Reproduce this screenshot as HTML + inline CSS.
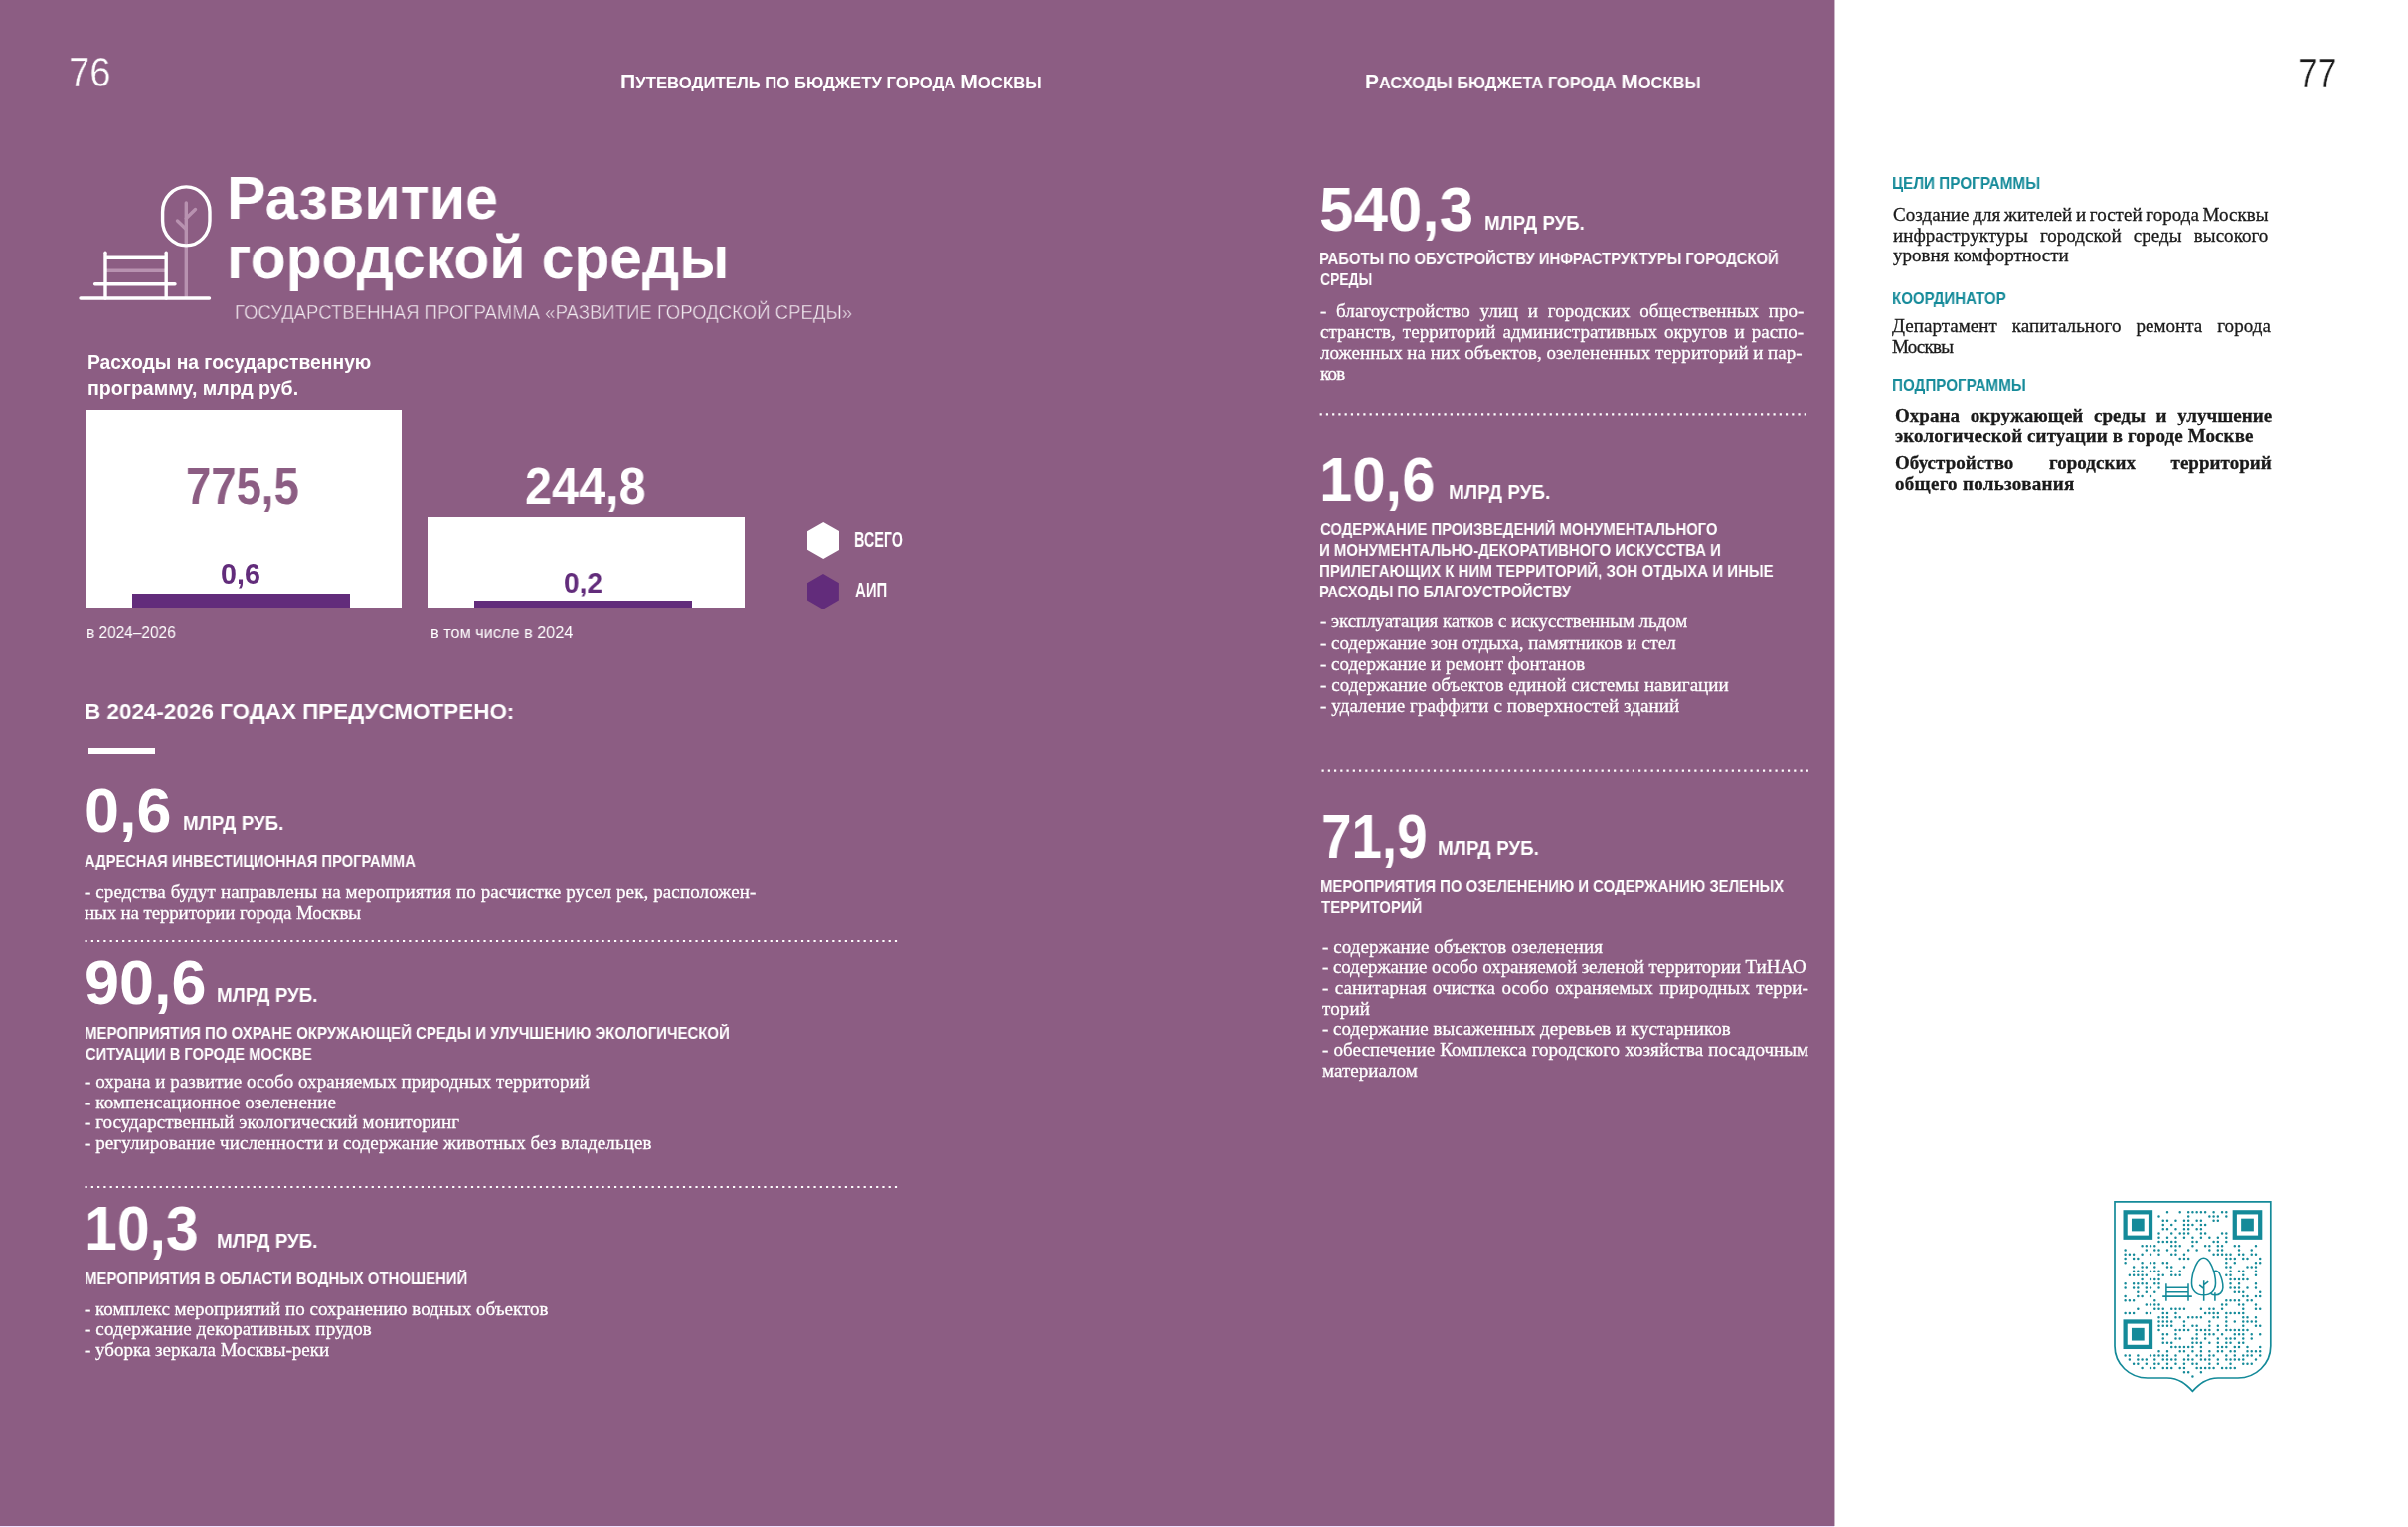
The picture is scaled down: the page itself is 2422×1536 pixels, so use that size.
<!DOCTYPE html>
<html><head><meta charset="utf-8"><title>Развитие городской среды</title><style>
*{margin:0;padding:0;box-sizing:border-box}
html,body{width:2422px;height:1536px;overflow:hidden;background:#fff}
body{position:relative;font-family:"Liberation Sans",sans-serif}
.t{position:absolute;white-space:nowrap;line-height:0;transform-origin:0 0;will-change:transform}
.sf{font-family:"Liberation Serif",serif;-webkit-text-stroke:0.3px currentColor}

.sc .b{font-size:21px}
#bg{position:absolute;left:0;top:0;width:1845px;height:1535px;background:#8c5d83}
#bgl{position:absolute;left:0;top:1535px;width:1845px;height:1px;background:#f0e1fd}
#bge{position:absolute;left:1845px;top:0;width:1px;height:1535px;background:rgba(140,93,131,0.45)}
</style></head><body>
<div id="bg"></div><div id="bgl"></div><div id="bge"></div>
<svg style="position:absolute;left:0;top:0" width="260" height="320" viewBox="0 0 260 320"><line x1="187.3" y1="204" x2="187.3" y2="298" stroke="#b892b0" stroke-width="3.4" stroke-linecap="round"/><polyline points="196.5,210.5 187.3,219.5" fill="none" stroke="#b892b0" stroke-width="3.4" stroke-linecap="round"/><polyline points="178.5,222 187.3,230.5" fill="none" stroke="#b892b0" stroke-width="3.4" stroke-linecap="round"/><rect x="163.6" y="187.9" width="47.4" height="59.0" rx="23.7" ry="25" fill="none" stroke="#fff" stroke-width="3.4"/><line x1="107" y1="272.3" x2="166" y2="272.3" stroke="#b892b0" stroke-width="3.4"/><line x1="106" y1="254.3" x2="106" y2="300" stroke="#fff" stroke-width="3.4" stroke-linecap="round"/><line x1="167.2" y1="254.3" x2="167.2" y2="300" stroke="#fff" stroke-width="3.4" stroke-linecap="round"/><line x1="106" y1="259.2" x2="167.2" y2="259.2" stroke="#fff" stroke-width="3.4"/><line x1="95.6" y1="285.8" x2="176" y2="285.8" stroke="#fff" stroke-width="3.4" stroke-linecap="round"/><line x1="81" y1="300" x2="210.5" y2="300" stroke="#fff" stroke-width="3.4" stroke-linecap="round"/></svg>
<div style="position:absolute;left:85.60px;top:412.00px;width:318.70px;height:199.60px;background:#fff;"></div>
<div style="position:absolute;left:430.00px;top:519.80px;width:318.60px;height:91.80px;background:#fff;"></div>
<div style="position:absolute;left:133.00px;top:598.40px;width:218.70px;height:13.20px;background:#622c7b;"></div>
<div style="position:absolute;left:477.40px;top:605.00px;width:218.60px;height:6.60px;background:#622c7b;"></div>
<svg style="position:absolute;left:811.50px;top:525.00px" width="32.40" height="37.00" viewBox="0 0 32.40 37.00"><polygon points="16.20,0 32.40,9.25 32.40,27.75 16.20,37.00 0,27.75 0,9.25" fill="#fff"/></svg>
<svg style="position:absolute;left:812.00px;top:576.60px" width="31.90" height="36.80" viewBox="0 0 31.90 36.80"><polygon points="15.95,0 31.90,9.20 31.90,27.60 15.95,36.80 0,27.60 0,9.20" fill="#622c7b"/></svg>
<div style="position:absolute;left:88.50px;top:751.60px;width:67.30px;height:6.30px;background:#fff;"></div>
<svg style="position:absolute;left:0;top:0;overflow:visible" width="1" height="1"><path d="M85.50,945.90h2.20v2.20h-2.20zM91.76,945.90h2.20v2.20h-2.20zM98.03,945.90h2.20v2.20h-2.20zM104.29,945.90h2.20v2.20h-2.20zM110.56,945.90h2.20v2.20h-2.20zM116.82,945.90h2.20v2.20h-2.20zM123.09,945.90h2.20v2.20h-2.20zM129.35,945.90h2.20v2.20h-2.20zM135.62,945.90h2.20v2.20h-2.20zM141.88,945.90h2.20v2.20h-2.20zM148.15,945.90h2.20v2.20h-2.20zM154.41,945.90h2.20v2.20h-2.20zM160.68,945.90h2.20v2.20h-2.20zM166.94,945.90h2.20v2.20h-2.20zM173.20,945.90h2.20v2.20h-2.20zM179.47,945.90h2.20v2.20h-2.20zM185.73,945.90h2.20v2.20h-2.20zM192.00,945.90h2.20v2.20h-2.20zM198.26,945.90h2.20v2.20h-2.20zM204.53,945.90h2.20v2.20h-2.20zM210.79,945.90h2.20v2.20h-2.20zM217.06,945.90h2.20v2.20h-2.20zM223.32,945.90h2.20v2.20h-2.20zM229.59,945.90h2.20v2.20h-2.20zM235.85,945.90h2.20v2.20h-2.20zM242.12,945.90h2.20v2.20h-2.20zM248.38,945.90h2.20v2.20h-2.20zM254.64,945.90h2.20v2.20h-2.20zM260.91,945.90h2.20v2.20h-2.20zM267.17,945.90h2.20v2.20h-2.20zM273.44,945.90h2.20v2.20h-2.20zM279.70,945.90h2.20v2.20h-2.20zM285.97,945.90h2.20v2.20h-2.20zM292.23,945.90h2.20v2.20h-2.20zM298.50,945.90h2.20v2.20h-2.20zM304.76,945.90h2.20v2.20h-2.20zM311.03,945.90h2.20v2.20h-2.20zM317.29,945.90h2.20v2.20h-2.20zM323.56,945.90h2.20v2.20h-2.20zM329.82,945.90h2.20v2.20h-2.20zM336.08,945.90h2.20v2.20h-2.20zM342.35,945.90h2.20v2.20h-2.20zM348.61,945.90h2.20v2.20h-2.20zM354.88,945.90h2.20v2.20h-2.20zM361.14,945.90h2.20v2.20h-2.20zM367.41,945.90h2.20v2.20h-2.20zM373.67,945.90h2.20v2.20h-2.20zM379.94,945.90h2.20v2.20h-2.20zM386.20,945.90h2.20v2.20h-2.20zM392.47,945.90h2.20v2.20h-2.20zM398.73,945.90h2.20v2.20h-2.20zM405.00,945.90h2.20v2.20h-2.20zM411.26,945.90h2.20v2.20h-2.20zM417.52,945.90h2.20v2.20h-2.20zM423.79,945.90h2.20v2.20h-2.20zM430.05,945.90h2.20v2.20h-2.20zM436.32,945.90h2.20v2.20h-2.20zM442.58,945.90h2.20v2.20h-2.20zM448.85,945.90h2.20v2.20h-2.20zM455.11,945.90h2.20v2.20h-2.20zM461.38,945.90h2.20v2.20h-2.20zM467.64,945.90h2.20v2.20h-2.20zM473.91,945.90h2.20v2.20h-2.20zM480.17,945.90h2.20v2.20h-2.20zM486.44,945.90h2.20v2.20h-2.20zM492.70,945.90h2.20v2.20h-2.20zM498.96,945.90h2.20v2.20h-2.20zM505.23,945.90h2.20v2.20h-2.20zM511.49,945.90h2.20v2.20h-2.20zM517.76,945.90h2.20v2.20h-2.20zM524.02,945.90h2.20v2.20h-2.20zM530.29,945.90h2.20v2.20h-2.20zM536.55,945.90h2.20v2.20h-2.20zM542.82,945.90h2.20v2.20h-2.20zM549.08,945.90h2.20v2.20h-2.20zM555.35,945.90h2.20v2.20h-2.20zM561.61,945.90h2.20v2.20h-2.20zM567.88,945.90h2.20v2.20h-2.20zM574.14,945.90h2.20v2.20h-2.20zM580.40,945.90h2.20v2.20h-2.20zM586.67,945.90h2.20v2.20h-2.20zM592.93,945.90h2.20v2.20h-2.20zM599.20,945.90h2.20v2.20h-2.20zM605.46,945.90h2.20v2.20h-2.20zM611.73,945.90h2.20v2.20h-2.20zM617.99,945.90h2.20v2.20h-2.20zM624.26,945.90h2.20v2.20h-2.20zM630.52,945.90h2.20v2.20h-2.20zM636.79,945.90h2.20v2.20h-2.20zM643.05,945.90h2.20v2.20h-2.20zM649.32,945.90h2.20v2.20h-2.20zM655.58,945.90h2.20v2.20h-2.20zM661.84,945.90h2.20v2.20h-2.20zM668.11,945.90h2.20v2.20h-2.20zM674.37,945.90h2.20v2.20h-2.20zM680.64,945.90h2.20v2.20h-2.20zM686.90,945.90h2.20v2.20h-2.20zM693.17,945.90h2.20v2.20h-2.20zM699.43,945.90h2.20v2.20h-2.20zM705.70,945.90h2.20v2.20h-2.20zM711.96,945.90h2.20v2.20h-2.20zM718.23,945.90h2.20v2.20h-2.20zM724.49,945.90h2.20v2.20h-2.20zM730.76,945.90h2.20v2.20h-2.20zM737.02,945.90h2.20v2.20h-2.20zM743.28,945.90h2.20v2.20h-2.20zM749.55,945.90h2.20v2.20h-2.20zM755.81,945.90h2.20v2.20h-2.20zM762.08,945.90h2.20v2.20h-2.20zM768.34,945.90h2.20v2.20h-2.20zM774.61,945.90h2.20v2.20h-2.20zM780.87,945.90h2.20v2.20h-2.20zM787.14,945.90h2.20v2.20h-2.20zM793.40,945.90h2.20v2.20h-2.20zM799.67,945.90h2.20v2.20h-2.20zM805.93,945.90h2.20v2.20h-2.20zM812.20,945.90h2.20v2.20h-2.20zM818.46,945.90h2.20v2.20h-2.20zM824.72,945.90h2.20v2.20h-2.20zM830.99,945.90h2.20v2.20h-2.20zM837.25,945.90h2.20v2.20h-2.20zM843.52,945.90h2.20v2.20h-2.20zM849.78,945.90h2.20v2.20h-2.20zM856.05,945.90h2.20v2.20h-2.20zM862.31,945.90h2.20v2.20h-2.20zM868.58,945.90h2.20v2.20h-2.20zM874.84,945.90h2.20v2.20h-2.20zM881.11,945.90h2.20v2.20h-2.20zM887.37,945.90h2.20v2.20h-2.20zM893.64,945.90h2.20v2.20h-2.20zM899.90,945.90h2.20v2.20h-2.20z" fill="#fff"/></svg>
<svg style="position:absolute;left:0;top:0;overflow:visible" width="1" height="1"><path d="M85.50,1192.90h2.20v2.20h-2.20zM91.76,1192.90h2.20v2.20h-2.20zM98.03,1192.90h2.20v2.20h-2.20zM104.29,1192.90h2.20v2.20h-2.20zM110.56,1192.90h2.20v2.20h-2.20zM116.82,1192.90h2.20v2.20h-2.20zM123.09,1192.90h2.20v2.20h-2.20zM129.35,1192.90h2.20v2.20h-2.20zM135.62,1192.90h2.20v2.20h-2.20zM141.88,1192.90h2.20v2.20h-2.20zM148.15,1192.90h2.20v2.20h-2.20zM154.41,1192.90h2.20v2.20h-2.20zM160.68,1192.90h2.20v2.20h-2.20zM166.94,1192.90h2.20v2.20h-2.20zM173.20,1192.90h2.20v2.20h-2.20zM179.47,1192.90h2.20v2.20h-2.20zM185.73,1192.90h2.20v2.20h-2.20zM192.00,1192.90h2.20v2.20h-2.20zM198.26,1192.90h2.20v2.20h-2.20zM204.53,1192.90h2.20v2.20h-2.20zM210.79,1192.90h2.20v2.20h-2.20zM217.06,1192.90h2.20v2.20h-2.20zM223.32,1192.90h2.20v2.20h-2.20zM229.59,1192.90h2.20v2.20h-2.20zM235.85,1192.90h2.20v2.20h-2.20zM242.12,1192.90h2.20v2.20h-2.20zM248.38,1192.90h2.20v2.20h-2.20zM254.64,1192.90h2.20v2.20h-2.20zM260.91,1192.90h2.20v2.20h-2.20zM267.17,1192.90h2.20v2.20h-2.20zM273.44,1192.90h2.20v2.20h-2.20zM279.70,1192.90h2.20v2.20h-2.20zM285.97,1192.90h2.20v2.20h-2.20zM292.23,1192.90h2.20v2.20h-2.20zM298.50,1192.90h2.20v2.20h-2.20zM304.76,1192.90h2.20v2.20h-2.20zM311.03,1192.90h2.20v2.20h-2.20zM317.29,1192.90h2.20v2.20h-2.20zM323.56,1192.90h2.20v2.20h-2.20zM329.82,1192.90h2.20v2.20h-2.20zM336.08,1192.90h2.20v2.20h-2.20zM342.35,1192.90h2.20v2.20h-2.20zM348.61,1192.90h2.20v2.20h-2.20zM354.88,1192.90h2.20v2.20h-2.20zM361.14,1192.90h2.20v2.20h-2.20zM367.41,1192.90h2.20v2.20h-2.20zM373.67,1192.90h2.20v2.20h-2.20zM379.94,1192.90h2.20v2.20h-2.20zM386.20,1192.90h2.20v2.20h-2.20zM392.47,1192.90h2.20v2.20h-2.20zM398.73,1192.90h2.20v2.20h-2.20zM405.00,1192.90h2.20v2.20h-2.20zM411.26,1192.90h2.20v2.20h-2.20zM417.52,1192.90h2.20v2.20h-2.20zM423.79,1192.90h2.20v2.20h-2.20zM430.05,1192.90h2.20v2.20h-2.20zM436.32,1192.90h2.20v2.20h-2.20zM442.58,1192.90h2.20v2.20h-2.20zM448.85,1192.90h2.20v2.20h-2.20zM455.11,1192.90h2.20v2.20h-2.20zM461.38,1192.90h2.20v2.20h-2.20zM467.64,1192.90h2.20v2.20h-2.20zM473.91,1192.90h2.20v2.20h-2.20zM480.17,1192.90h2.20v2.20h-2.20zM486.44,1192.90h2.20v2.20h-2.20zM492.70,1192.90h2.20v2.20h-2.20zM498.96,1192.90h2.20v2.20h-2.20zM505.23,1192.90h2.20v2.20h-2.20zM511.49,1192.90h2.20v2.20h-2.20zM517.76,1192.90h2.20v2.20h-2.20zM524.02,1192.90h2.20v2.20h-2.20zM530.29,1192.90h2.20v2.20h-2.20zM536.55,1192.90h2.20v2.20h-2.20zM542.82,1192.90h2.20v2.20h-2.20zM549.08,1192.90h2.20v2.20h-2.20zM555.35,1192.90h2.20v2.20h-2.20zM561.61,1192.90h2.20v2.20h-2.20zM567.88,1192.90h2.20v2.20h-2.20zM574.14,1192.90h2.20v2.20h-2.20zM580.40,1192.90h2.20v2.20h-2.20zM586.67,1192.90h2.20v2.20h-2.20zM592.93,1192.90h2.20v2.20h-2.20zM599.20,1192.90h2.20v2.20h-2.20zM605.46,1192.90h2.20v2.20h-2.20zM611.73,1192.90h2.20v2.20h-2.20zM617.99,1192.90h2.20v2.20h-2.20zM624.26,1192.90h2.20v2.20h-2.20zM630.52,1192.90h2.20v2.20h-2.20zM636.79,1192.90h2.20v2.20h-2.20zM643.05,1192.90h2.20v2.20h-2.20zM649.32,1192.90h2.20v2.20h-2.20zM655.58,1192.90h2.20v2.20h-2.20zM661.84,1192.90h2.20v2.20h-2.20zM668.11,1192.90h2.20v2.20h-2.20zM674.37,1192.90h2.20v2.20h-2.20zM680.64,1192.90h2.20v2.20h-2.20zM686.90,1192.90h2.20v2.20h-2.20zM693.17,1192.90h2.20v2.20h-2.20zM699.43,1192.90h2.20v2.20h-2.20zM705.70,1192.90h2.20v2.20h-2.20zM711.96,1192.90h2.20v2.20h-2.20zM718.23,1192.90h2.20v2.20h-2.20zM724.49,1192.90h2.20v2.20h-2.20zM730.76,1192.90h2.20v2.20h-2.20zM737.02,1192.90h2.20v2.20h-2.20zM743.28,1192.90h2.20v2.20h-2.20zM749.55,1192.90h2.20v2.20h-2.20zM755.81,1192.90h2.20v2.20h-2.20zM762.08,1192.90h2.20v2.20h-2.20zM768.34,1192.90h2.20v2.20h-2.20zM774.61,1192.90h2.20v2.20h-2.20zM780.87,1192.90h2.20v2.20h-2.20zM787.14,1192.90h2.20v2.20h-2.20zM793.40,1192.90h2.20v2.20h-2.20zM799.67,1192.90h2.20v2.20h-2.20zM805.93,1192.90h2.20v2.20h-2.20zM812.20,1192.90h2.20v2.20h-2.20zM818.46,1192.90h2.20v2.20h-2.20zM824.72,1192.90h2.20v2.20h-2.20zM830.99,1192.90h2.20v2.20h-2.20zM837.25,1192.90h2.20v2.20h-2.20zM843.52,1192.90h2.20v2.20h-2.20zM849.78,1192.90h2.20v2.20h-2.20zM856.05,1192.90h2.20v2.20h-2.20zM862.31,1192.90h2.20v2.20h-2.20zM868.58,1192.90h2.20v2.20h-2.20zM874.84,1192.90h2.20v2.20h-2.20zM881.11,1192.90h2.20v2.20h-2.20zM887.37,1192.90h2.20v2.20h-2.20zM893.64,1192.90h2.20v2.20h-2.20zM899.90,1192.90h2.20v2.20h-2.20z" fill="#fff"/></svg>
<svg style="position:absolute;left:0;top:0;overflow:visible" width="1" height="1"><path d="M1327.60,415.20h2.20v2.20h-2.20zM1333.84,415.20h2.20v2.20h-2.20zM1340.09,415.20h2.20v2.20h-2.20zM1346.33,415.20h2.20v2.20h-2.20zM1352.58,415.20h2.20v2.20h-2.20zM1358.82,415.20h2.20v2.20h-2.20zM1365.07,415.20h2.20v2.20h-2.20zM1371.31,415.20h2.20v2.20h-2.20zM1377.56,415.20h2.20v2.20h-2.20zM1383.80,415.20h2.20v2.20h-2.20zM1390.05,415.20h2.20v2.20h-2.20zM1396.29,415.20h2.20v2.20h-2.20zM1402.54,415.20h2.20v2.20h-2.20zM1408.78,415.20h2.20v2.20h-2.20zM1415.03,415.20h2.20v2.20h-2.20zM1421.27,415.20h2.20v2.20h-2.20zM1427.52,415.20h2.20v2.20h-2.20zM1433.76,415.20h2.20v2.20h-2.20zM1440.01,415.20h2.20v2.20h-2.20zM1446.25,415.20h2.20v2.20h-2.20zM1452.50,415.20h2.20v2.20h-2.20zM1458.74,415.20h2.20v2.20h-2.20zM1464.99,415.20h2.20v2.20h-2.20zM1471.23,415.20h2.20v2.20h-2.20zM1477.48,415.20h2.20v2.20h-2.20zM1483.72,415.20h2.20v2.20h-2.20zM1489.97,415.20h2.20v2.20h-2.20zM1496.21,415.20h2.20v2.20h-2.20zM1502.46,415.20h2.20v2.20h-2.20zM1508.70,415.20h2.20v2.20h-2.20zM1514.95,415.20h2.20v2.20h-2.20zM1521.19,415.20h2.20v2.20h-2.20zM1527.44,415.20h2.20v2.20h-2.20zM1533.68,415.20h2.20v2.20h-2.20zM1539.93,415.20h2.20v2.20h-2.20zM1546.17,415.20h2.20v2.20h-2.20zM1552.42,415.20h2.20v2.20h-2.20zM1558.66,415.20h2.20v2.20h-2.20zM1564.91,415.20h2.20v2.20h-2.20zM1571.15,415.20h2.20v2.20h-2.20zM1577.39,415.20h2.20v2.20h-2.20zM1583.64,415.20h2.20v2.20h-2.20zM1589.88,415.20h2.20v2.20h-2.20zM1596.13,415.20h2.20v2.20h-2.20zM1602.37,415.20h2.20v2.20h-2.20zM1608.62,415.20h2.20v2.20h-2.20zM1614.86,415.20h2.20v2.20h-2.20zM1621.11,415.20h2.20v2.20h-2.20zM1627.35,415.20h2.20v2.20h-2.20zM1633.60,415.20h2.20v2.20h-2.20zM1639.84,415.20h2.20v2.20h-2.20zM1646.09,415.20h2.20v2.20h-2.20zM1652.33,415.20h2.20v2.20h-2.20zM1658.58,415.20h2.20v2.20h-2.20zM1664.82,415.20h2.20v2.20h-2.20zM1671.07,415.20h2.20v2.20h-2.20zM1677.31,415.20h2.20v2.20h-2.20zM1683.56,415.20h2.20v2.20h-2.20zM1689.80,415.20h2.20v2.20h-2.20zM1696.05,415.20h2.20v2.20h-2.20zM1702.29,415.20h2.20v2.20h-2.20zM1708.54,415.20h2.20v2.20h-2.20zM1714.78,415.20h2.20v2.20h-2.20zM1721.03,415.20h2.20v2.20h-2.20zM1727.27,415.20h2.20v2.20h-2.20zM1733.52,415.20h2.20v2.20h-2.20zM1739.76,415.20h2.20v2.20h-2.20zM1746.01,415.20h2.20v2.20h-2.20zM1752.25,415.20h2.20v2.20h-2.20zM1758.50,415.20h2.20v2.20h-2.20zM1764.74,415.20h2.20v2.20h-2.20zM1770.99,415.20h2.20v2.20h-2.20zM1777.23,415.20h2.20v2.20h-2.20zM1783.48,415.20h2.20v2.20h-2.20zM1789.72,415.20h2.20v2.20h-2.20zM1795.97,415.20h2.20v2.20h-2.20zM1802.21,415.20h2.20v2.20h-2.20zM1808.46,415.20h2.20v2.20h-2.20zM1814.70,415.20h2.20v2.20h-2.20z" fill="#fff"/></svg>
<svg style="position:absolute;left:0;top:0;overflow:visible" width="1" height="1"><path d="M1329.50,774.60h2.20v2.20h-2.20zM1335.75,774.60h2.20v2.20h-2.20zM1341.99,774.60h2.20v2.20h-2.20zM1348.24,774.60h2.20v2.20h-2.20zM1354.48,774.60h2.20v2.20h-2.20zM1360.73,774.60h2.20v2.20h-2.20zM1366.98,774.60h2.20v2.20h-2.20zM1373.22,774.60h2.20v2.20h-2.20zM1379.47,774.60h2.20v2.20h-2.20zM1385.72,774.60h2.20v2.20h-2.20zM1391.96,774.60h2.20v2.20h-2.20zM1398.21,774.60h2.20v2.20h-2.20zM1404.45,774.60h2.20v2.20h-2.20zM1410.70,774.60h2.20v2.20h-2.20zM1416.95,774.60h2.20v2.20h-2.20zM1423.19,774.60h2.20v2.20h-2.20zM1429.44,774.60h2.20v2.20h-2.20zM1435.68,774.60h2.20v2.20h-2.20zM1441.93,774.60h2.20v2.20h-2.20zM1448.18,774.60h2.20v2.20h-2.20zM1454.42,774.60h2.20v2.20h-2.20zM1460.67,774.60h2.20v2.20h-2.20zM1466.92,774.60h2.20v2.20h-2.20zM1473.16,774.60h2.20v2.20h-2.20zM1479.41,774.60h2.20v2.20h-2.20zM1485.65,774.60h2.20v2.20h-2.20zM1491.90,774.60h2.20v2.20h-2.20zM1498.15,774.60h2.20v2.20h-2.20zM1504.39,774.60h2.20v2.20h-2.20zM1510.64,774.60h2.20v2.20h-2.20zM1516.88,774.60h2.20v2.20h-2.20zM1523.13,774.60h2.20v2.20h-2.20zM1529.38,774.60h2.20v2.20h-2.20zM1535.62,774.60h2.20v2.20h-2.20zM1541.87,774.60h2.20v2.20h-2.20zM1548.12,774.60h2.20v2.20h-2.20zM1554.36,774.60h2.20v2.20h-2.20zM1560.61,774.60h2.20v2.20h-2.20zM1566.85,774.60h2.20v2.20h-2.20zM1573.10,774.60h2.20v2.20h-2.20zM1579.35,774.60h2.20v2.20h-2.20zM1585.59,774.60h2.20v2.20h-2.20zM1591.84,774.60h2.20v2.20h-2.20zM1598.08,774.60h2.20v2.20h-2.20zM1604.33,774.60h2.20v2.20h-2.20zM1610.58,774.60h2.20v2.20h-2.20zM1616.82,774.60h2.20v2.20h-2.20zM1623.07,774.60h2.20v2.20h-2.20zM1629.32,774.60h2.20v2.20h-2.20zM1635.56,774.60h2.20v2.20h-2.20zM1641.81,774.60h2.20v2.20h-2.20zM1648.05,774.60h2.20v2.20h-2.20zM1654.30,774.60h2.20v2.20h-2.20zM1660.55,774.60h2.20v2.20h-2.20zM1666.79,774.60h2.20v2.20h-2.20zM1673.04,774.60h2.20v2.20h-2.20zM1679.28,774.60h2.20v2.20h-2.20zM1685.53,774.60h2.20v2.20h-2.20zM1691.78,774.60h2.20v2.20h-2.20zM1698.02,774.60h2.20v2.20h-2.20zM1704.27,774.60h2.20v2.20h-2.20zM1710.52,774.60h2.20v2.20h-2.20zM1716.76,774.60h2.20v2.20h-2.20zM1723.01,774.60h2.20v2.20h-2.20zM1729.25,774.60h2.20v2.20h-2.20zM1735.50,774.60h2.20v2.20h-2.20zM1741.75,774.60h2.20v2.20h-2.20zM1747.99,774.60h2.20v2.20h-2.20zM1754.24,774.60h2.20v2.20h-2.20zM1760.48,774.60h2.20v2.20h-2.20zM1766.73,774.60h2.20v2.20h-2.20zM1772.98,774.60h2.20v2.20h-2.20zM1779.22,774.60h2.20v2.20h-2.20zM1785.47,774.60h2.20v2.20h-2.20zM1791.72,774.60h2.20v2.20h-2.20zM1797.96,774.60h2.20v2.20h-2.20zM1804.21,774.60h2.20v2.20h-2.20zM1810.45,774.60h2.20v2.20h-2.20zM1816.70,774.60h2.20v2.20h-2.20z" fill="#fff"/></svg>
<svg style="position:absolute;left:2120px;top:1200px" width="175" height="210" viewBox="2120 1200 175 210"><path d="M2127,1208.8 H2283.8 V1354 C2283.8,1372 2269,1386 2251,1386 H2231 C2219,1386 2212,1392.5 2205.4,1399.3 C2198.8,1392.5 2191.8,1386 2179.8,1386 H2159.8 C2141.8,1386 2127,1372 2127,1354 Z" fill="none" stroke="#148a99" stroke-width="1.7" stroke-linejoin="miter"/><rect x="2137.62" y="1219.32" width="25.42" height="25.42" fill="none" stroke="#148a99" stroke-width="4.24"/><rect x="2143.97" y="1225.67" width="12.71" height="12.71" fill="#148a99"/><rect x="2247.78" y="1219.32" width="25.42" height="25.42" fill="none" stroke="#148a99" stroke-width="4.24"/><rect x="2254.14" y="1225.67" width="12.71" height="12.71" fill="#148a99"/><rect x="2137.62" y="1329.48" width="25.42" height="25.42" fill="none" stroke="#148a99" stroke-width="4.24"/><rect x="2143.97" y="1335.84" width="12.71" height="12.71" fill="#148a99"/><path d="M2179.99,1219.32h0.01M2192.70,1219.32h0.01M2201.17,1219.32h0.01M2205.41,1219.32h0.01M2209.65,1219.32h0.01M2213.88,1219.32h0.01M2218.12,1219.32h0.01M2226.60,1219.32h0.01M2235.07,1219.32h0.01M2239.31,1219.32h0.01M2171.51,1223.56h0.01M2201.17,1223.56h0.01M2222.36,1223.56h0.01M2226.60,1223.56h0.01M2230.83,1223.56h0.01M2239.31,1223.56h0.01M2175.75,1227.79h0.01M2179.99,1227.79h0.01M2188.46,1227.79h0.01M2196.94,1227.79h0.01M2201.17,1227.79h0.01M2209.65,1227.79h0.01M2213.88,1227.79h0.01M2226.60,1227.79h0.01M2230.83,1227.79h0.01M2175.75,1232.03h0.01M2184.23,1232.03h0.01M2196.94,1232.03h0.01M2201.17,1232.03h0.01M2205.41,1232.03h0.01M2213.88,1232.03h0.01M2218.12,1232.03h0.01M2175.75,1236.27h0.01M2179.99,1236.27h0.01M2188.46,1236.27h0.01M2196.94,1236.27h0.01M2201.17,1236.27h0.01M2209.65,1236.27h0.01M2213.88,1236.27h0.01M2171.51,1240.50h0.01M2184.23,1240.50h0.01M2192.70,1240.50h0.01M2196.94,1240.50h0.01M2201.17,1240.50h0.01M2213.88,1240.50h0.01M2218.12,1240.50h0.01M2235.07,1240.50h0.01M2239.31,1240.50h0.01M2171.51,1244.74h0.01M2179.99,1244.74h0.01M2188.46,1244.74h0.01M2196.94,1244.74h0.01M2205.41,1244.74h0.01M2213.88,1244.74h0.01M2222.36,1244.74h0.01M2230.83,1244.74h0.01M2239.31,1244.74h0.01M2171.51,1248.98h0.01M2175.75,1248.98h0.01M2179.99,1248.98h0.01M2184.23,1248.98h0.01M2188.46,1248.98h0.01M2205.41,1248.98h0.01M2209.65,1248.98h0.01M2226.60,1248.98h0.01M2230.83,1248.98h0.01M2239.31,1248.98h0.01M2154.57,1253.21h0.01M2158.80,1253.21h0.01M2163.04,1253.21h0.01M2167.28,1253.21h0.01M2184.23,1253.21h0.01M2188.46,1253.21h0.01M2192.70,1253.21h0.01M2205.41,1253.21h0.01M2218.12,1253.21h0.01M2222.36,1253.21h0.01M2230.83,1253.21h0.01M2235.07,1253.21h0.01M2247.78,1253.21h0.01M2252.02,1253.21h0.01M2268.97,1253.21h0.01M2137.62,1257.45h0.01M2158.80,1257.45h0.01M2167.28,1257.45h0.01M2171.51,1257.45h0.01M2179.99,1257.45h0.01M2188.46,1257.45h0.01M2201.17,1257.45h0.01M2209.65,1257.45h0.01M2222.36,1257.45h0.01M2230.83,1257.45h0.01M2235.07,1257.45h0.01M2252.02,1257.45h0.01M2264.73,1257.45h0.01M2137.62,1261.69h0.01M2141.86,1261.69h0.01M2146.09,1261.69h0.01M2154.57,1261.69h0.01M2163.04,1261.69h0.01M2171.51,1261.69h0.01M2184.23,1261.69h0.01M2188.46,1261.69h0.01M2196.94,1261.69h0.01M2226.60,1261.69h0.01M2230.83,1261.69h0.01M2235.07,1261.69h0.01M2239.31,1261.69h0.01M2243.54,1261.69h0.01M2252.02,1261.69h0.01M2256.25,1261.69h0.01M2264.73,1261.69h0.01M2268.97,1261.69h0.01M2137.62,1265.93h0.01M2146.09,1265.93h0.01M2150.33,1265.93h0.01M2192.70,1265.93h0.01M2196.94,1265.93h0.01M2201.17,1265.93h0.01M2239.31,1265.93h0.01M2243.54,1265.93h0.01M2247.78,1265.93h0.01M2256.25,1265.93h0.01M2260.49,1265.93h0.01M2273.20,1265.93h0.01M2137.62,1270.16h0.01M2154.57,1270.16h0.01M2163.04,1270.16h0.01M2167.28,1270.16h0.01M2175.75,1270.16h0.01M2179.99,1270.16h0.01M2239.31,1270.16h0.01M2247.78,1270.16h0.01M2268.97,1270.16h0.01M2273.20,1270.16h0.01M2146.09,1274.40h0.01M2154.57,1274.40h0.01M2158.80,1274.40h0.01M2167.28,1274.40h0.01M2179.99,1274.40h0.01M2184.23,1274.40h0.01M2196.94,1274.40h0.01M2239.31,1274.40h0.01M2243.54,1274.40h0.01M2260.49,1274.40h0.01M2264.73,1274.40h0.01M2268.97,1274.40h0.01M2146.09,1278.64h0.01M2150.33,1278.64h0.01M2154.57,1278.64h0.01M2163.04,1278.64h0.01M2167.28,1278.64h0.01M2171.51,1278.64h0.01M2184.23,1278.64h0.01M2192.70,1278.64h0.01M2243.54,1278.64h0.01M2252.02,1278.64h0.01M2256.25,1278.64h0.01M2268.97,1278.64h0.01M2141.86,1282.87h0.01M2146.09,1282.87h0.01M2150.33,1282.87h0.01M2154.57,1282.87h0.01M2158.80,1282.87h0.01M2171.51,1282.87h0.01M2175.75,1282.87h0.01M2184.23,1282.87h0.01M2188.46,1282.87h0.01M2192.70,1282.87h0.01M2239.31,1282.87h0.01M2243.54,1282.87h0.01M2256.25,1282.87h0.01M2268.97,1282.87h0.01M2154.57,1287.11h0.01M2163.04,1287.11h0.01M2167.28,1287.11h0.01M2171.51,1287.11h0.01M2243.54,1287.11h0.01M2247.78,1287.11h0.01M2252.02,1287.11h0.01M2256.25,1287.11h0.01M2260.49,1287.11h0.01M2137.62,1291.35h0.01M2146.09,1291.35h0.01M2150.33,1291.35h0.01M2154.57,1291.35h0.01M2158.80,1291.35h0.01M2167.28,1291.35h0.01M2171.51,1291.35h0.01M2243.54,1291.35h0.01M2252.02,1291.35h0.01M2268.97,1291.35h0.01M2137.62,1295.58h0.01M2146.09,1295.58h0.01M2150.33,1295.58h0.01M2158.80,1295.58h0.01M2163.04,1295.58h0.01M2171.51,1295.58h0.01M2243.54,1295.58h0.01M2247.78,1295.58h0.01M2252.02,1295.58h0.01M2260.49,1295.58h0.01M2268.97,1295.58h0.01M2150.33,1299.82h0.01M2158.80,1299.82h0.01M2167.28,1299.82h0.01M2247.78,1299.82h0.01M2252.02,1299.82h0.01M2256.25,1299.82h0.01M2273.20,1299.82h0.01M2137.62,1304.06h0.01M2150.33,1304.06h0.01M2154.57,1304.06h0.01M2163.04,1304.06h0.01M2256.25,1304.06h0.01M2260.49,1304.06h0.01M2268.97,1304.06h0.01M2273.20,1304.06h0.01M2137.62,1308.30h0.01M2141.86,1308.30h0.01M2146.09,1308.30h0.01M2167.28,1308.30h0.01M2239.31,1308.30h0.01M2243.54,1308.30h0.01M2247.78,1308.30h0.01M2252.02,1308.30h0.01M2260.49,1308.30h0.01M2264.73,1308.30h0.01M2158.80,1312.53h0.01M2163.04,1312.53h0.01M2167.28,1312.53h0.01M2171.51,1312.53h0.01M2235.07,1312.53h0.01M2239.31,1312.53h0.01M2252.02,1312.53h0.01M2256.25,1312.53h0.01M2268.97,1312.53h0.01M2150.33,1316.77h0.01M2167.28,1316.77h0.01M2171.51,1316.77h0.01M2175.75,1316.77h0.01M2184.23,1316.77h0.01M2188.46,1316.77h0.01M2192.70,1316.77h0.01M2196.94,1316.77h0.01M2213.88,1316.77h0.01M2222.36,1316.77h0.01M2226.60,1316.77h0.01M2235.07,1316.77h0.01M2256.25,1316.77h0.01M2268.97,1316.77h0.01M2273.20,1316.77h0.01M2137.62,1321.01h0.01M2141.86,1321.01h0.01M2146.09,1321.01h0.01M2158.80,1321.01h0.01M2163.04,1321.01h0.01M2175.75,1321.01h0.01M2179.99,1321.01h0.01M2188.46,1321.01h0.01M2218.12,1321.01h0.01M2222.36,1321.01h0.01M2226.60,1321.01h0.01M2230.83,1321.01h0.01M2239.31,1321.01h0.01M2243.54,1321.01h0.01M2247.78,1321.01h0.01M2252.02,1321.01h0.01M2256.25,1321.01h0.01M2171.51,1325.24h0.01M2175.75,1325.24h0.01M2179.99,1325.24h0.01M2188.46,1325.24h0.01M2192.70,1325.24h0.01M2201.17,1325.24h0.01M2205.41,1325.24h0.01M2209.65,1325.24h0.01M2213.88,1325.24h0.01M2226.60,1325.24h0.01M2230.83,1325.24h0.01M2239.31,1325.24h0.01M2256.25,1325.24h0.01M2260.49,1325.24h0.01M2268.97,1325.24h0.01M2171.51,1329.48h0.01M2175.75,1329.48h0.01M2179.99,1329.48h0.01M2184.23,1329.48h0.01M2196.94,1329.48h0.01M2222.36,1329.48h0.01M2239.31,1329.48h0.01M2247.78,1329.48h0.01M2256.25,1329.48h0.01M2260.49,1329.48h0.01M2264.73,1329.48h0.01M2268.97,1329.48h0.01M2171.51,1333.72h0.01M2175.75,1333.72h0.01M2179.99,1333.72h0.01M2184.23,1333.72h0.01M2196.94,1333.72h0.01M2205.41,1333.72h0.01M2209.65,1333.72h0.01M2222.36,1333.72h0.01M2230.83,1333.72h0.01M2239.31,1333.72h0.01M2256.25,1333.72h0.01M2268.97,1333.72h0.01M2273.20,1333.72h0.01M2171.51,1337.95h0.01M2188.46,1337.95h0.01M2192.70,1337.95h0.01M2196.94,1337.95h0.01M2201.17,1337.95h0.01M2209.65,1337.95h0.01M2213.88,1337.95h0.01M2218.12,1337.95h0.01M2222.36,1337.95h0.01M2230.83,1337.95h0.01M2239.31,1337.95h0.01M2243.54,1337.95h0.01M2247.78,1337.95h0.01M2252.02,1337.95h0.01M2256.25,1337.95h0.01M2260.49,1337.95h0.01M2175.75,1342.19h0.01M2179.99,1342.19h0.01M2188.46,1342.19h0.01M2209.65,1342.19h0.01M2218.12,1342.19h0.01M2222.36,1342.19h0.01M2226.60,1342.19h0.01M2235.07,1342.19h0.01M2247.78,1342.19h0.01M2252.02,1342.19h0.01M2256.25,1342.19h0.01M2264.73,1342.19h0.01M2273.20,1342.19h0.01M2175.75,1346.43h0.01M2188.46,1346.43h0.01M2192.70,1346.43h0.01M2205.41,1346.43h0.01M2209.65,1346.43h0.01M2218.12,1346.43h0.01M2230.83,1346.43h0.01M2239.31,1346.43h0.01M2243.54,1346.43h0.01M2247.78,1346.43h0.01M2256.25,1346.43h0.01M2264.73,1346.43h0.01M2175.75,1350.67h0.01M2179.99,1350.67h0.01M2184.23,1350.67h0.01M2205.41,1350.67h0.01M2209.65,1350.67h0.01M2213.88,1350.67h0.01M2222.36,1350.67h0.01M2230.83,1350.67h0.01M2239.31,1350.67h0.01M2243.54,1350.67h0.01M2252.02,1350.67h0.01M2256.25,1350.67h0.01M2184.23,1354.90h0.01M2188.46,1354.90h0.01M2192.70,1354.90h0.01M2196.94,1354.90h0.01M2201.17,1354.90h0.01M2205.41,1354.90h0.01M2213.88,1354.90h0.01M2230.83,1354.90h0.01M2235.07,1354.90h0.01M2239.31,1354.90h0.01M2247.78,1354.90h0.01M2252.02,1354.90h0.01M2260.49,1354.90h0.01M2273.20,1354.90h0.01M2171.51,1359.14h0.01M2179.99,1359.14h0.01M2192.70,1359.14h0.01M2196.94,1359.14h0.01M2205.41,1359.14h0.01M2213.88,1359.14h0.01M2222.36,1359.14h0.01M2230.83,1359.14h0.01M2235.07,1359.14h0.01M2243.54,1359.14h0.01M2247.78,1359.14h0.01M2260.49,1359.14h0.01M2264.73,1359.14h0.01M2268.97,1359.14h0.01M2273.20,1359.14h0.01M2137.62,1363.38h0.01M2141.86,1363.38h0.01M2150.33,1363.38h0.01M2163.04,1363.38h0.01M2167.28,1363.38h0.01M2171.51,1363.38h0.01M2175.75,1363.38h0.01M2179.99,1363.38h0.01M2188.46,1363.38h0.01M2201.17,1363.38h0.01M2209.65,1363.38h0.01M2213.88,1363.38h0.01M2222.36,1363.38h0.01M2226.60,1363.38h0.01M2239.31,1363.38h0.01M2247.78,1363.38h0.01M2256.25,1363.38h0.01M2260.49,1363.38h0.01M2264.73,1363.38h0.01M2273.20,1363.38h0.01M2141.86,1367.61h0.01M2150.33,1367.61h0.01M2154.57,1367.61h0.01M2158.80,1367.61h0.01M2167.28,1367.61h0.01M2175.75,1367.61h0.01M2179.99,1367.61h0.01M2184.23,1367.61h0.01M2188.46,1367.61h0.01M2196.94,1367.61h0.01M2201.17,1367.61h0.01M2205.41,1367.61h0.01M2213.88,1367.61h0.01M2218.12,1367.61h0.01M2222.36,1367.61h0.01M2230.83,1367.61h0.01M2239.31,1367.61h0.01M2243.54,1367.61h0.01M2247.78,1367.61h0.01M2252.02,1367.61h0.01M2256.25,1367.61h0.01M2268.97,1367.61h0.01M2146.09,1371.85h0.01M2150.33,1371.85h0.01M2158.80,1371.85h0.01M2167.28,1371.85h0.01M2171.51,1371.85h0.01M2179.99,1371.85h0.01M2188.46,1371.85h0.01M2196.94,1371.85h0.01M2205.41,1371.85h0.01M2209.65,1371.85h0.01M2222.36,1371.85h0.01M2230.83,1371.85h0.01M2243.54,1371.85h0.01M2256.25,1371.85h0.01M2260.49,1371.85h0.01M2264.73,1371.85h0.01M2154.57,1376.09h0.01M2163.04,1376.09h0.01M2167.28,1376.09h0.01M2175.75,1376.09h0.01M2179.99,1376.09h0.01M2184.23,1376.09h0.01M2192.70,1376.09h0.01M2196.94,1376.09h0.01M2209.65,1376.09h0.01M2213.88,1376.09h0.01M2218.12,1376.09h0.01M2222.36,1376.09h0.01M2226.60,1376.09h0.01M2235.07,1376.09h0.01M2239.31,1376.09h0.01M2243.54,1376.09h0.01M2247.78,1376.09h0.01M2196.94,1380.32h0.01M2201.17,1380.32h0.01M2213.88,1380.32h0.01M2205.41,1384.56h0.01" stroke="#148a99" stroke-width="2.5" stroke-linecap="round" fill="none"/><g fill="none" stroke="#148a99" stroke-width="1.55" stroke-linecap="butt"><path d="M2178.9,1291.3 V1308.7 M2201,1291.3 V1308.7 M2175.2,1304.1 H2204.8 M2178.9,1295.2 H2201 M2178.9,1299.7 H2201"/><path d="M2216.7,1288.2 V1308.7 M2216.7,1292.6 L2221.2,1289.2 M2216.7,1296.4 L2212.2,1292.8 M2227.9,1300.3 V1308.7"/><path d="M2216.5,1265.3 C2210,1265.3 2204.5,1280 2204.5,1291 C2204.5,1298.5 2209.5,1302.8 2216.5,1302.8 C2223.5,1302.8 2228.5,1298.5 2228.5,1291 C2228.5,1280 2223,1265.3 2216.5,1265.3 Z"/><path d="M2226.6,1279.2 C2228.5,1277.6 2231,1278.2 2232.4,1281 C2234.6,1285.5 2236,1291.5 2235.9,1295.5 C2235.7,1300 2232.3,1302.8 2228.3,1302.8 C2226.3,1302.8 2224.8,1302.2 2223.6,1301.3"/></g></svg>
<div id="t0" class="t" style="left:68.50px;top:72.55px;font-size:42.50px;color:#ffffff;transform:scaleX(0.8963);-webkit-text-stroke:0.5px #8c5d83">76</div>
<div id="t1" class="t" style="left:2311.25px;top:74.05px;font-size:42.50px;color:#1a1a1a;transform:scaleX(0.8307);-webkit-text-stroke:0.5px #fff">77</div>
<div id="t2" class="t sc" style="left:623.99px;top:82.15px;font-size:16.60px;color:#ffffff;font-weight:bold;transform:scaleX(1.0091)"><span class="b">П</span>УТЕВОДИТЕЛЬ ПО БЮДЖЕТУ ГОРОДА <span class="b">М</span>ОСКВЫ</div>
<div id="t3" class="t sc" style="left:1372.71px;top:81.55px;font-size:16.60px;color:#ffffff;font-weight:bold;transform:scaleX(0.9929)"><span class="b">Р</span>АСХОДЫ БЮДЖЕТА ГОРОДА <span class="b">М</span>ОСКВЫ</div>
<div id="t4" class="t" style="left:228.15px;top:198.75px;font-size:62.00px;color:#ffffff;font-weight:bold;transform:scaleX(0.9554)">Развитие</div>
<div id="t5" class="t" style="left:228.18px;top:258.55px;font-size:62.00px;color:#ffffff;font-weight:bold;transform:scaleX(0.9475)">городской среды</div>
<div id="t6" class="t" style="left:235.94px;top:313.55px;font-size:21.00px;color:#f4eef3;transform:scaleX(0.8825);-webkit-text-stroke:0.45px #8c5d83">ГОСУДАРСТВЕННАЯ ПРОГРАММА «РАЗВИТИЕ ГОРОДСКОЙ СРЕДЫ»</div>
<div id="t7" class="t" style="left:88.00px;top:365.35px;font-size:19.30px;color:#ffffff;font-weight:bold">Расходы на государственную</div>
<div id="t8" class="t" style="left:87.98px;top:390.55px;font-size:19.30px;color:#ffffff;font-weight:bold;transform:scaleX(1.0155)">программу, млрд руб.</div>
<div id="t9" class="t" style="left:186.89px;top:488.55px;font-size:51.60px;color:#8c5d83;font-weight:bold;transform:scaleX(0.8803)">775,5</div>
<div id="t10" class="t" style="left:527.87px;top:488.55px;font-size:51.60px;color:#ffffff;font-weight:bold;transform:scaleX(0.9414)">244,8</div>
<div id="t11" class="t" style="left:222.22px;top:577.25px;font-size:28.70px;color:#622c7b;font-weight:bold;transform:scaleX(0.9962)">0,6</div>
<div id="t12" class="t" style="left:567.02px;top:586.05px;font-size:28.70px;color:#622c7b;font-weight:bold;transform:scaleX(0.9775)">0,2</div>
<div id="t13" class="t" style="left:858.55px;top:542.55px;font-size:21.50px;color:#ffffff;font-weight:bold;transform:scaleX(0.6688)">ВСЕГО</div>
<div id="t14" class="t" style="left:859.54px;top:594.35px;font-size:21.50px;color:#ffffff;font-weight:bold;transform:scaleX(0.6957)">АИП</div>
<div id="t15" class="t" style="left:87.08px;top:636.15px;font-size:16.40px;color:#ffffff;transform:scaleX(0.9415)">в 2024–2026</div>
<div id="t16" class="t" style="left:432.51px;top:636.15px;font-size:16.40px;color:#ffffff;transform:scaleX(0.9930)">в том числе в 2024</div>
<div id="t17" class="t" style="left:84.91px;top:715.35px;font-size:22.80px;color:#ffffff;font-weight:bold;transform:scaleX(0.9849)">В 2024-2026 ГОДАХ ПРЕДУСМОТРЕНО:</div>
<div id="t18" class="t" style="left:85.19px;top:815.45px;font-size:62.80px;color:#ffffff;font-weight:bold;transform:scaleX(1.0015)">0,6</div>
<div id="t19" class="t" style="left:183.55px;top:827.65px;font-size:20.50px;color:#ffffff;font-weight:bold;transform:scaleX(0.9154)">МЛРД РУБ.</div>
<div id="t20" class="t" style="left:85.00px;top:866.65px;font-size:16.60px;color:#ffffff;font-weight:bold;transform:scaleX(0.8864)">АДРЕСНАЯ ИНВЕСТИЦИОННАЯ ПРОГРАММА</div>
<div id="t21" class="t sf" style="left:85.20px;top:896.95px;font-size:19.00px;color:#ffffff;letter-spacing:0.113px">- средства будут направлены на мероприятия по расчистке русел рек, расположен-</div>
<div id="t22" class="t sf" style="left:85.20px;top:917.55px;font-size:19.00px;color:#ffffff;letter-spacing:-0.150px">ных на территории города Москвы</div>
<div id="t23" class="t" style="left:85.40px;top:988.45px;font-size:62.80px;color:#ffffff;font-weight:bold;transform:scaleX(1.0034)">90,6</div>
<div id="t24" class="t" style="left:218.12px;top:1000.85px;font-size:20.50px;color:#ffffff;font-weight:bold;transform:scaleX(0.9158)">МЛРД РУБ.</div>
<div id="t25" class="t" style="left:84.91px;top:1039.75px;font-size:16.60px;color:#ffffff;font-weight:bold;transform:scaleX(0.9025)">МЕРОПРИЯТИЯ ПО ОХРАНЕ ОКРУЖАЮЩЕЙ СРЕДЫ И УЛУЧШЕНИЮ ЭКОЛОГИЧЕСКОЙ</div>
<div id="t26" class="t" style="left:85.90px;top:1061.05px;font-size:16.60px;color:#ffffff;font-weight:bold;transform:scaleX(0.8851)">СИТУАЦИИ В ГОРОДЕ МОСКВЕ</div>
<div id="t27" class="t sf" style="left:85.20px;top:1088.35px;font-size:19.00px;color:#ffffff;letter-spacing:0.048px">- охрана и развитие особо охраняемых природных территорий</div>
<div id="t28" class="t sf" style="left:85.20px;top:1108.80px;font-size:19.00px;color:#ffffff;letter-spacing:0.100px">- компенсационное озеленение</div>
<div id="t29" class="t sf" style="left:85.20px;top:1129.25px;font-size:19.00px;color:#ffffff;letter-spacing:0.039px">- государственный экологический мониторинг</div>
<div id="t30" class="t sf" style="left:85.20px;top:1149.70px;font-size:19.00px;color:#ffffff;letter-spacing:0.078px">- регулирование численности и содержание животных без владельцев</div>
<div id="t31" class="t" style="left:84.62px;top:1235.25px;font-size:62.80px;color:#ffffff;font-weight:bold;transform:scaleX(0.9386)">10,3</div>
<div id="t32" class="t" style="left:218.12px;top:1248.35px;font-size:20.50px;color:#ffffff;font-weight:bold;transform:scaleX(0.9158)">МЛРД РУБ.</div>
<div id="t33" class="t" style="left:84.91px;top:1286.75px;font-size:16.60px;color:#ffffff;font-weight:bold;transform:scaleX(0.8999)">МЕРОПРИЯТИЯ В ОБЛАСТИ ВОДНЫХ ОТНОШЕНИЙ</div>
<div id="t34" class="t sf" style="left:85.20px;top:1316.95px;font-size:19.00px;color:#ffffff;letter-spacing:0.004px">- комплекс мероприятий по сохранению водных объектов</div>
<div id="t35" class="t sf" style="left:85.20px;top:1337.45px;font-size:19.00px;color:#ffffff;letter-spacing:0.126px">- содержание декоративных прудов</div>
<div id="t36" class="t sf" style="left:85.20px;top:1357.95px;font-size:19.00px;color:#ffffff;letter-spacing:-0.004px">- уборка зеркала Москвы-реки</div>
<div id="t37" class="t" style="left:1327.02px;top:209.65px;font-size:62.80px;color:#ffffff;font-weight:bold;transform:scaleX(0.9871)">540,3</div>
<div id="t38" class="t" style="left:1493.36px;top:223.55px;font-size:20.50px;color:#ffffff;font-weight:bold;transform:scaleX(0.9105)">МЛРД РУБ.</div>
<div id="t39" class="t" style="left:1327.15px;top:261.15px;font-size:16.60px;color:#ffffff;font-weight:bold;transform:scaleX(0.8940)">РАБОТЫ ПО ОБУСТРОЙСТВУ ИНФРАСТРУКТУРЫ ГОРОДСКОЙ</div>
<div id="t40" class="t" style="left:1328.15px;top:282.25px;font-size:16.60px;color:#ffffff;font-weight:bold;transform:scaleX(0.8395)">СРЕДЫ</div>
<div id="t41" class="t sf" style="left:1328.40px;top:313.45px;font-size:19.00px;color:#ffffff;letter-spacing:0.042px;word-spacing:4.962px">- благоустройство улиц и городских общественных про-</div>
<div id="t42" class="t sf" style="left:1328.40px;top:334.35px;font-size:19.00px;color:#ffffff;letter-spacing:0.042px;word-spacing:2.138px">странств, территорий административных округов и распо-</div>
<div id="t43" class="t sf" style="left:1328.40px;top:355.25px;font-size:19.00px;color:#ffffff;letter-spacing:0.042px;word-spacing:-0.193px">ложенных на них объектов, озелененных территорий и пар-</div>
<div id="t44" class="t sf" style="left:1328.40px;top:376.15px;font-size:19.00px;color:#ffffff;letter-spacing:-0.750px">ков</div>
<div id="t45" class="t" style="left:1327.17px;top:481.65px;font-size:62.80px;color:#ffffff;font-weight:bold;transform:scaleX(0.9537)">10,6</div>
<div id="t46" class="t" style="left:1456.75px;top:494.95px;font-size:20.50px;color:#ffffff;font-weight:bold;transform:scaleX(0.9246)">МЛРД РУБ.</div>
<div id="t47" class="t" style="left:1328.13px;top:532.65px;font-size:16.60px;color:#ffffff;font-weight:bold;transform:scaleX(0.8943)">СОДЕРЖАНИЕ ПРОИЗВЕДЕНИЙ МОНУМЕНТАЛЬНОГО</div>
<div id="t48" class="t" style="left:1327.14px;top:553.68px;font-size:16.60px;color:#ffffff;font-weight:bold;transform:scaleX(0.9010)">И МОНУМЕНТАЛЬНО-ДЕКОРАТИВНОГО ИСКУССТВА И</div>
<div id="t49" class="t" style="left:1327.13px;top:574.71px;font-size:16.60px;color:#ffffff;font-weight:bold;transform:scaleX(0.9050)">ПРИЛЕГАЮЩИХ К НИМ ТЕРРИТОРИЙ, ЗОН ОТДЫХА И ИНЫЕ</div>
<div id="t50" class="t" style="left:1327.16px;top:595.74px;font-size:16.60px;color:#ffffff;font-weight:bold;transform:scaleX(0.8852)">РАСХОДЫ ПО БЛАГОУСТРОЙСТВУ</div>
<div id="t51" class="t sf" style="left:1328.40px;top:625.45px;font-size:19.00px;color:#ffffff;letter-spacing:-0.074px">- эксплуатация катков с искусственным льдом</div>
<div id="t52" class="t sf" style="left:1328.40px;top:646.52px;font-size:19.00px;color:#ffffff;letter-spacing:-0.029px">- содержание зон отдыха, памятников и стел</div>
<div id="t53" class="t sf" style="left:1328.40px;top:667.59px;font-size:19.00px;color:#ffffff;letter-spacing:-0.003px">- содержание и ремонт фонтанов</div>
<div id="t54" class="t sf" style="left:1328.40px;top:688.66px;font-size:19.00px;color:#ffffff;letter-spacing:0.044px">- содержание объектов единой системы навигации</div>
<div id="t55" class="t sf" style="left:1328.40px;top:709.73px;font-size:19.00px;color:#ffffff;letter-spacing:0.085px">- удаление граффити с поверхностей зданий</div>
<div id="t56" class="t" style="left:1328.67px;top:841.35px;font-size:62.80px;color:#ffffff;font-weight:bold;transform:scaleX(0.8724)">71,9</div>
<div id="t57" class="t" style="left:1445.71px;top:853.15px;font-size:20.50px;color:#ffffff;font-weight:bold;transform:scaleX(0.9204)">МЛРД РУБ.</div>
<div id="t58" class="t" style="left:1328.15px;top:892.15px;font-size:16.60px;color:#ffffff;font-weight:bold;transform:scaleX(0.8966)">МЕРОПРИЯТИЯ ПО ОЗЕЛЕНЕНИЮ И СОДЕРЖАНИЮ ЗЕЛЕНЫХ</div>
<div id="t59" class="t" style="left:1329.05px;top:912.65px;font-size:16.60px;color:#ffffff;font-weight:bold;transform:scaleX(0.8965)">ТЕРРИТОРИЙ</div>
<div id="t60" class="t sf" style="left:1329.60px;top:952.75px;font-size:19.00px;color:#ffffff;letter-spacing:0.087px">- содержание объектов озеленения</div>
<div id="t61" class="t sf" style="left:1329.60px;top:973.38px;font-size:19.00px;color:#ffffff;letter-spacing:-0.085px">- содержание особо охраняемой зеленой территории ТиНАО</div>
<div id="t62" class="t sf" style="left:1329.60px;top:994.01px;font-size:19.00px;color:#ffffff;letter-spacing:0.042px;word-spacing:1.648px">- санитарная очистка особо охраняемых природных терри-</div>
<div id="t63" class="t sf" style="left:1329.60px;top:1014.64px;font-size:19.00px;color:#ffffff;letter-spacing:0.125px">торий</div>
<div id="t64" class="t sf" style="left:1329.60px;top:1035.27px;font-size:19.00px;color:#ffffff;letter-spacing:0.020px">- содержание высаженных деревьев и кустарников</div>
<div id="t65" class="t sf" style="left:1329.60px;top:1055.90px;font-size:19.00px;color:#ffffff;letter-spacing:0.042px;word-spacing:0.369px">- обеспечение Комплекса городского хозяйства посадочным</div>
<div id="t66" class="t sf" style="left:1329.60px;top:1076.53px;font-size:19.00px;color:#ffffff;letter-spacing:0.033px">материалом</div>
<div id="t67" class="t" style="left:1902.85px;top:184.55px;font-size:16.60px;color:#148a99;font-weight:bold;transform:scaleX(0.9208)">ЦЕЛИ ПРОГРАММЫ</div>
<div id="t68" class="t sf" style="left:1904.40px;top:216.35px;font-size:19.00px;color:#1a1a1a;letter-spacing:0.042px;word-spacing:-1.142px">Создание для жителей и гостей города Москвы</div>
<div id="t69" class="t sf" style="left:1904.40px;top:237.15px;font-size:19.00px;color:#1a1a1a;letter-spacing:0.042px;word-spacing:7.438px">инфраструктуры городской среды высокого</div>
<div id="t70" class="t sf" style="left:1904.40px;top:257.05px;font-size:19.00px;color:#1a1a1a;letter-spacing:-0.017px">уровня комфортности</div>
<div id="t71" class="t" style="left:1902.87px;top:300.75px;font-size:16.60px;color:#148a99;font-weight:bold;transform:scaleX(0.9065)">КООРДИНАТОР</div>
<div id="t72" class="t sf" style="left:1903.40px;top:327.65px;font-size:19.00px;color:#1a1a1a;letter-spacing:0.042px;word-spacing:10.138px">Департамент капитального ремонта города</div>
<div id="t73" class="t sf" style="left:1903.40px;top:348.55px;font-size:19.00px;color:#1a1a1a;letter-spacing:-0.760px">Москвы</div>
<div id="t74" class="t" style="left:1902.86px;top:388.05px;font-size:16.60px;color:#148a99;font-weight:bold;transform:scaleX(0.9162)">ПОДПРОГРАММЫ</div>
<div id="t75" class="t sf" style="left:1905.80px;top:417.85px;font-size:19.00px;color:#1a1a1a;font-weight:bold;letter-spacing:0.042px;word-spacing:5.870px">Охрана окружающей среды и улучшение</div>
<div id="t76" class="t sf" style="left:1905.80px;top:438.75px;font-size:19.00px;color:#1a1a1a;font-weight:bold;letter-spacing:0.103px">экологической ситуации в городе Москве</div>
<div id="t77" class="t sf" style="left:1905.80px;top:465.65px;font-size:19.00px;color:#1a1a1a;font-weight:bold;letter-spacing:0.042px;word-spacing:30.782px">Обустройство городских территорий</div>
<div id="t78" class="t sf" style="left:1905.80px;top:486.55px;font-size:19.00px;color:#1a1a1a;font-weight:bold;letter-spacing:0.294px">общего пользования</div>
</body></html>
